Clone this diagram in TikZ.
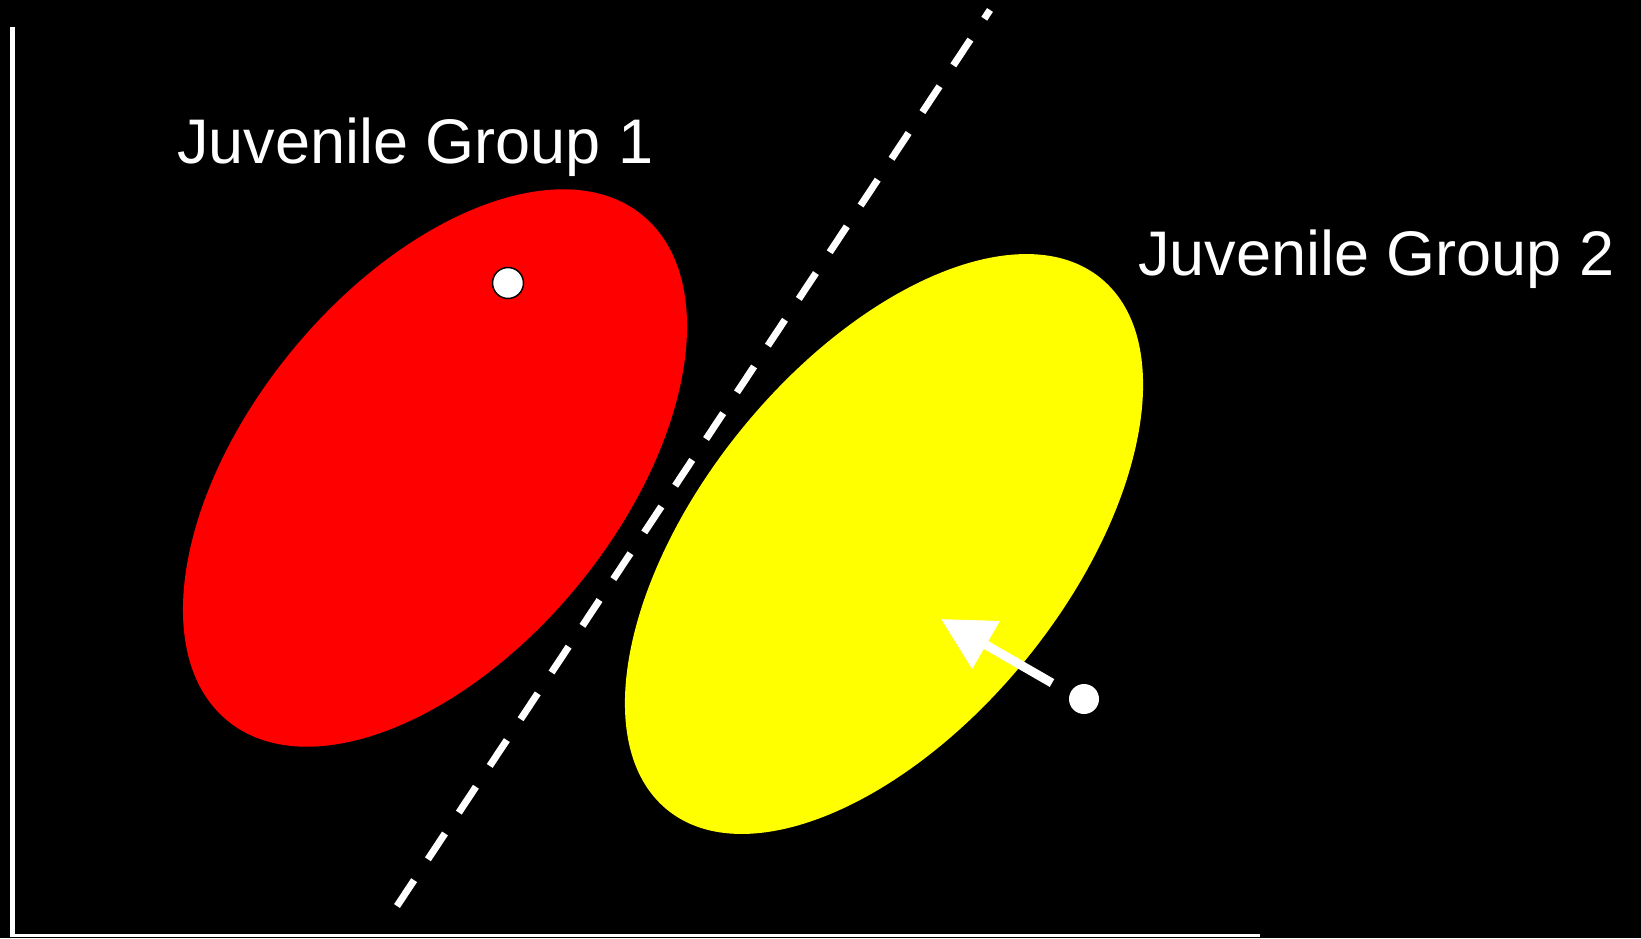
\documentclass[tikz,border=0pt]{standalone}
\usepackage{fontspec}
\setmainfont{Liberation Sans}
\usetikzlibrary{arrows.meta}
\definecolor{grpred}{RGB}{255,0,0}
\definecolor{grpyellow}{RGB}{255,255,0}
\begin{document}
\begin{tikzpicture}[x=1pt,y=-1pt,
	grplabel/.style={text=white,font=\fontsize{63}{76}\selectfont,anchor=base west,inner sep=0pt},
	dot/.style={circle,fill=white,inner sep=0pt}]
	\fill[black] (0,0) rectangle (1641,938);
	\useasboundingbox (0,0) rectangle (1641,938);
	% axes
	\coordinate (ytop) at (12,27);
	\coordinate (origin) at (12,935);
	\coordinate (xend) at (1260,935);
	\draw[white,line width=5pt] (ytop) -- (12,937);
	\draw[white,line width=3pt] (10,935) -- (xend);
	% the two groups
	\fill[grpred,rotate around={50.6:(435,468)}] (435,468) ellipse [x radius=327, y radius=185];
	\fill[grpyellow,rotate around={50.8:(884,544)}] (884,544) ellipse [x radius=343, y radius=183];
	\node[grplabel] (g1) at (177,163) {Juvenile Group 1};
	\node[grplabel] (g2) at (1138,275) {Juvenile Group 2};
	% dividing line
	\coordinate (divbot) at (397,906);
	\coordinate (divtop) at (990,10);
	\draw[white,line width=7pt,dash pattern=on 31pt off 25pt] (divbot) -- (divtop);
	% individuals
	\node[dot,draw=black,line width=1.5pt,minimum size=31pt] (ind1) at (508,283) {};
	\node[dot,minimum size=30pt] (ind2) at (1084,699) {};
	\coordinate (tail) at (1052,683);
	\coordinate (tip) at (941,619);
	\draw[white,line width=9pt,-{Triangle[length=52pt,width=53pt]}] (tail) -- (tip);
\end{tikzpicture}
\end{document}
